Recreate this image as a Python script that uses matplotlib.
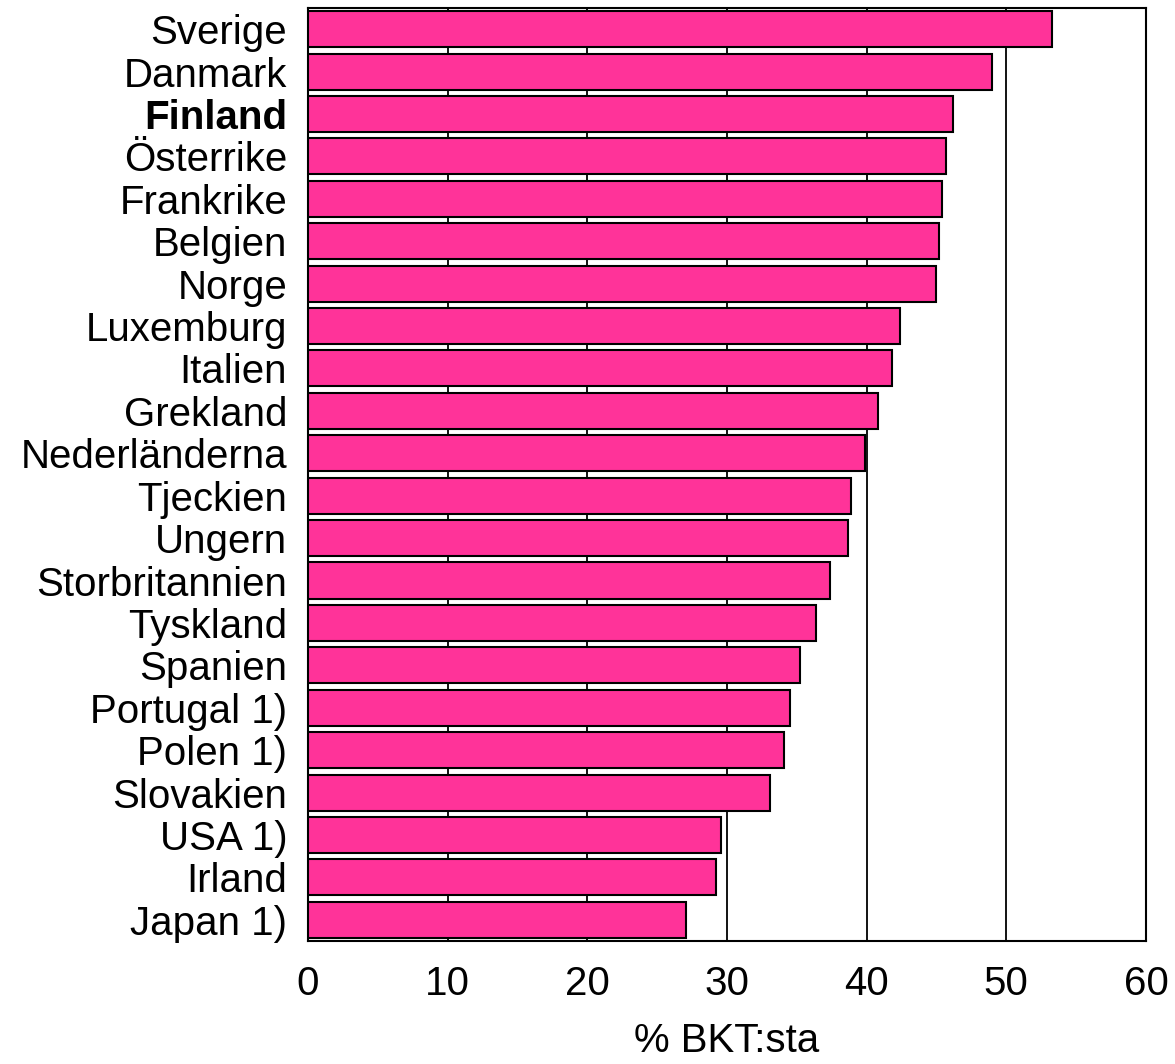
import matplotlib.pyplot as plt
import numpy as np

plt.rcParams['font.family'] = ['Liberation Sans', 'DejaVu Sans']

countries = ['Sverige', 'Danmark', 'Finland', 'Österrike', 'Frankrike', 'Belgien', 'Norge',
             'Luxemburg', 'Italien', 'Grekland', 'Nederländerna', 'Tjeckien', 'Ungern',
             'Storbritannien', 'Tyskland', 'Spanien', 'Portugal 1)', 'Polen 1)', 'Slovakien',
             'USA 1)', 'Irland', 'Japan 1)']
values = [53.3, 49.0, 46.2, 45.7, 45.4, 45.2, 45.0, 42.4, 41.8, 40.8, 39.9, 38.9, 38.7,
          37.4, 36.4, 35.2, 34.5, 34.1, 33.1, 29.6, 29.2, 27.1]
xticks = [0, 10, 20, 30, 40, 50, 60]

fig = plt.figure(figsize=(11.75, 10.64), dpi=100)
ax = fig.add_axes([0.2621, 0.1156, 0.7132, 0.8769])

y = np.arange(len(countries))
ax.barh(y, values, height=0.85, color='#FF3399', edgecolor='black', linewidth=1.5, zorder=3)

ax.set_ylim(len(countries) - 0.5, -0.5)
ax.set_xlim(0, 60)
ax.set_xticks(xticks)
ax.set_yticks(y)
ax.set_yticklabels(countries, fontsize=29)
for lab in ax.get_yticklabels():
    if lab.get_text() == 'Finland':
        lab.set_fontweight('bold')
ax.tick_params(axis='x', labelsize=29, length=0, pad=17)
ax.tick_params(axis='y', length=0, pad=15)
ax.xaxis.grid(True, color='black', linewidth=1.3, zorder=0)
ax.set_axisbelow(True)
for s in ax.spines.values():
    s.set_linewidth(1.5)
ax.set_xlabel('% BKT:sta', fontsize=29, labelpad=14)

fig.savefig('out.png', dpi=100)
